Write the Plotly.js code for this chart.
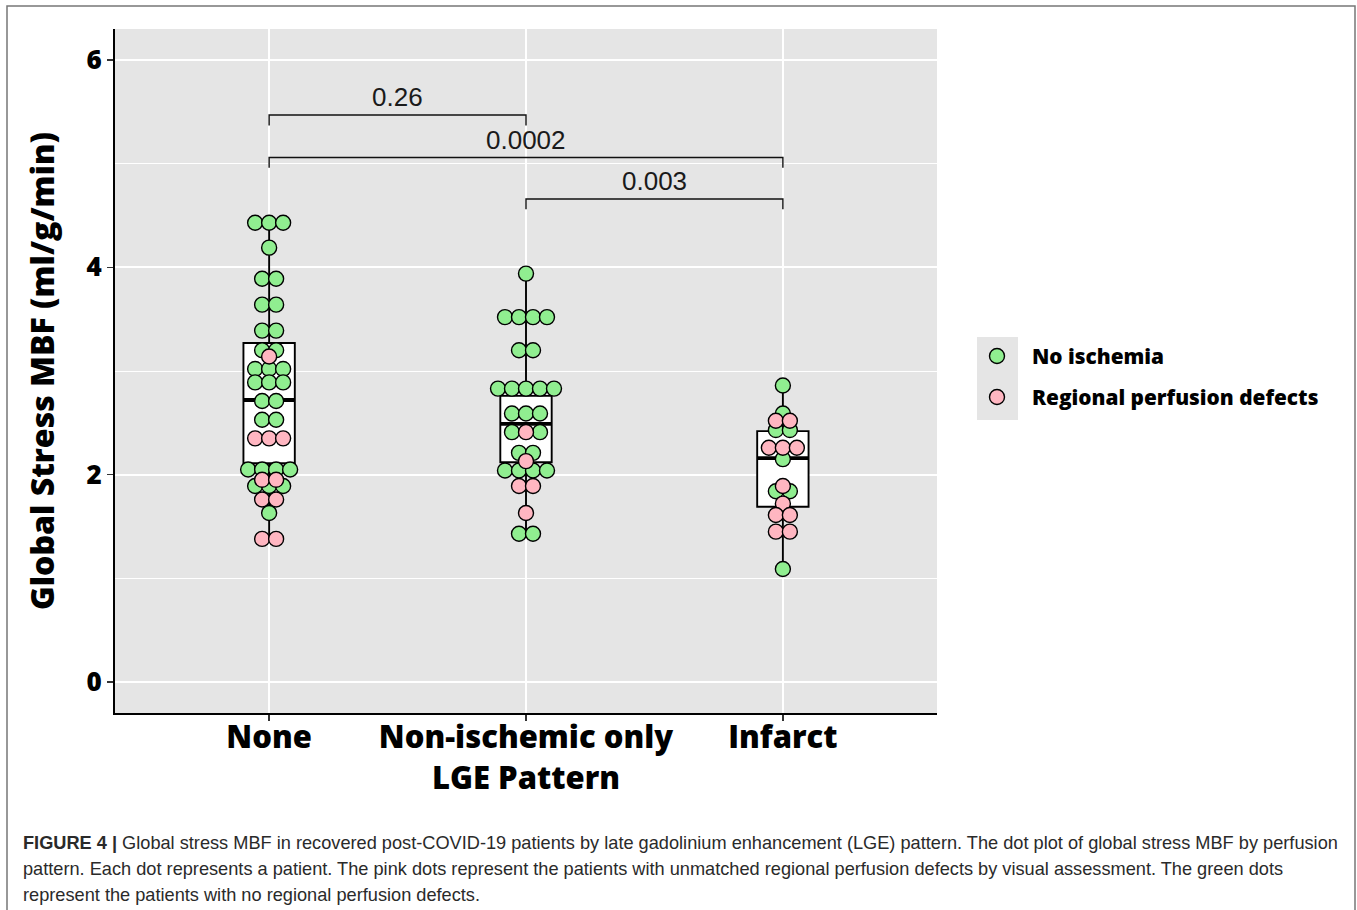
<!DOCTYPE html>
<html><head><meta charset="utf-8">
<script src="https://cdn.plot.ly/plotly-3.0.1.min.js"></script>
<style>html,body{margin:0;padding:0;background:#fff;} #chart{width:1357px;height:910px;}</style>
</head><body><div id="chart"></div>
<script>
// ---- data ----
const categories = ['None', 'Non-ischemic only', 'Infarct'];
const groupPositions = [0, 1, 2];
const xAxisTitle = 'LGE Pattern';
const yAxisTitle = 'Global Stress MBF (ml/g/min)';

// Global stress MBF per patient (ml/g/min); status: 'N' = no ischemia, 'R' = regional perfusion defects
const noneMBF = [4.43,4.43,4.43,4.19,3.89,3.89,3.64,3.64,3.39,3.39,3.20,3.20,3.14,3.02,3.02,3.02,2.89,2.89,2.89,2.71,2.71,2.53,2.53,2.35,2.35,2.35,2.05,2.05,2.05,2.05,1.95,1.95,1.89,1.89,1.89,1.76,1.76,1.63,1.38,1.38];
const noneStatus = ['N','N','N','N','N','N','N','N','N','N','N','N','R','N','N','N','N','N','N','N','N','N','N','R','R','R','N','N','N','N','R','R','N','N','N','R','R','N','R','R'];

const nonIschemicMBF = [3.94,3.52,3.52,3.52,3.52,3.20,3.20,2.83,2.83,2.83,2.83,2.83,2.59,2.59,2.59,2.41,2.41,2.41,2.21,2.21,2.13,2.04,2.04,2.04,2.04,1.89,1.89,1.63,1.43,1.43];
const nonIschemicStatus = ['N','N','N','N','N','N','N','N','N','N','N','N','N','N','N','N','R','N','N','N','R','N','N','N','N','R','R','R','N','N'];

const infarctMBF = [2.86,2.59,2.52,2.52,2.43,2.43,2.26,2.26,2.26,2.15,1.89,1.84,1.84,1.72,1.61,1.61,1.45,1.45,1.09];
const infarctStatus = ['N','N','R','R','N','N','R','R','R','N','R','N','N','R','R','R','R','R','N'];

// box summary statistics
const boxQ1 = [2.11, 2.12, 1.69];
const boxMedian = [2.72, 2.49, 2.16];
const boxQ3 = [3.27, 2.76, 2.42];
const boxLower = [1.38, 1.43, 1.09];
const boxUpper = [4.43, 3.94, 2.86];

// pairwise comparisons
const compFrom = [0, 0, 1];
const compTo = [1, 2, 2];
const compY = [5.47, 5.06, 4.66];
const compLabel = ['0.26', '0.0002', '0.003'];

const statusNames = {N: 'No ischemia', R: 'Regional perfusion defects'};
const statusColors = {N: '#90EE90', R: '#FFB6C1'};

// ---- build ----
const DOT_STEP = 0.0545;
const BOX_HALF = 0.1;
const TICK_DROP = 0.1;

function stackOffsets(values, pos) {
  const counts = {}; values.forEach(v => counts[v] = (counts[v] || 0) + 1);
  const seen = {};
  return values.map(v => {
    seen[v] = (seen[v] === undefined) ? 0 : seen[v] + 1;
    return pos + (seen[v] - (counts[v] - 1) / 2) * DOT_STEP;
  });
}
const groups = [[noneMBF, noneStatus], [nonIschemicMBF, nonIschemicStatus], [infarctMBF, infarctStatus]];
const dots = {N: {x: [], y: []}, R: {x: [], y: []}};
groups.forEach((g, gi) => {
  const xs = stackOffsets(g[0], groupPositions[gi]);
  g[0].forEach((v, i) => { dots[g[1][i]].x.push(xs[i]); dots[g[1][i]].y.push(v); });
});

const traces = [];
traces.push({
  type: 'box', x: groupPositions, q1: boxQ1, median: boxMedian, q3: boxQ3,
  lowerfence: boxLower, upperfence: boxUpper, width: 2 * BOX_HALF,
  fillcolor: 'white', line: {color: 'black', width: 1.9}, whiskerwidth: 0,
  boxpoints: false, showlegend: false, hoverinfo: 'skip'
});
const medX = [], medY = [];
groupPositions.forEach((p, i) => { medX.push(p - BOX_HALF, p + BOX_HALF, null); medY.push(boxMedian[i], boxMedian[i], null); });
traces.push({type: 'scatter', mode: 'lines', x: medX, y: medY, line: {color: 'black', width: 3.8}, showlegend: false, hoverinfo: 'skip'});

['N', 'R'].forEach(s => {
  traces.push({
    type: 'scatter', mode: 'markers', name: statusNames[s], legendgroup: s,
    x: dots[s].x, y: dots[s].y,
    marker: {color: statusColors[s], size: 15, line: {color: 'black', width: 1.4}}
  });
});

const brX = [], brY = [];
compFrom.forEach((a, i) => {
  const b = compTo[i], y = compY[i];
  brX.push(groupPositions[a], groupPositions[a], groupPositions[b], groupPositions[b], null);
  brY.push(y - TICK_DROP, y, y, y - TICK_DROP, null);
});
traces.push({type: 'scatter', mode: 'lines', x: brX, y: brY, line: {color: '#111', width: 1.4}, showlegend: false, hoverinfo: 'skip'});

const annotations = compLabel.map((t, i) => ({
  x: (groupPositions[compFrom[i]] + groupPositions[compTo[i]]) / 2, y: compY[i],
  xref: 'x', yref: 'y', yanchor: 'bottom', yshift: 1, showarrow: false, text: t,
  font: {family: 'Liberation Sans, Arial, sans-serif', size: 26, color: '#1a1a1a'}
}));

// caption
const W = 822, H = 684, L = 115, T = 29;
const px = x => (x - L) / W, py = y => (T + H - y) / H;
const captionLines = [
  '<b>FIGURE 4 |</b> Global stress MBF in recovered post-COVID-19 patients by late gadolinium enhancement (LGE) pattern. The dot plot of global stress MBF by perfusion',
  'pattern. Each dot represents a patient. The pink dots represent the patients with unmatched regional perfusion defects by visual assessment. The green dots',
  'represent the patients with no regional perfusion defects.'
];
const captionY = [843, 869, 895];
captionLines.forEach((t, i) => annotations.push({
  xref: 'paper', yref: 'paper', x: px(21), y: py(captionY[i]), xanchor: 'left', yanchor: 'middle',
  showarrow: false, text: t, align: 'left',
  font: {family: 'Liberation Sans, Arial, sans-serif', size: 18.2, color: '#2a2a2a'}
}));

const bold = {family: 'Open Sans, Lato, sans-serif', weight: 800, color: 'black'};

// x-axis title placed as an annotation just under the tick labels (tight ggplot spacing)
annotations.push({
  xref: 'paper', yref: 'paper', x: 0.5, y: py(777), xanchor: 'center', yanchor: 'middle',
  showarrow: false, text: xAxisTitle, font: Object.assign({size: 31}, bold)
});

const layout = {
  width: 1357, height: 910,
  margin: {l: L, r: 1357 - L - W, t: T, b: 910 - T - H, pad: 0},
  paper_bgcolor: 'white', plot_bgcolor: '#E5E5E5',
  showlegend: true,
  legend: {x: px(962), y: py(336), xanchor: 'left', yanchor: 'top', bgcolor: 'rgba(0,0,0,0)',
           font: Object.assign({size: 20.8}, bold), traceorder: 'grouped', tracegroupgap: 11, itemwidth: 60},
  xaxis: {
    range: [-0.6, 2.6], tickmode: 'array', tickvals: groupPositions, ticktext: categories,
    showgrid: true, gridcolor: 'white', gridwidth: 2, zeroline: false,
    showline: true, linecolor: 'black', linewidth: 2,
    ticks: 'outside', ticklen: 6, tickwidth: 1.5, tickcolor: '#333', ticklabelstandoff: -10,
    tickfont: Object.assign({size: 31}, bold)
  },
  yaxis: {
    range: [-0.3, 6.3], tickmode: 'linear', tick0: 0, dtick: 2,
    showgrid: true, gridcolor: 'white', gridwidth: 2, zeroline: false,
    minor: {tick0: 0, dtick: 1, showgrid: true, gridcolor: 'white', gridwidth: 1, ticks: ''},
    showline: true, linecolor: 'black', linewidth: 2,
    ticks: 'outside', ticklen: 6, tickwidth: 1.5, tickcolor: '#333',
    tickfont: Object.assign({size: 26}, bold),
    title: {text: yAxisTitle, font: Object.assign({size: 32}, bold), standoff: 22}
  },
  shapes: [
    {type: 'rect', xref: 'paper', yref: 'paper', x0: px(977), x1: px(1018), y0: py(420), y1: py(337),
     fillcolor: '#E5E5E5', line: {width: 0}, layer: 'below'},
    {type: 'rect', xref: 'paper', yref: 'paper', x0: px(7), x1: px(1355), y0: py(930), y1: py(6),
     fillcolor: 'rgba(0,0,0,0)', line: {color: '#777', width: 1.5}}
  ],
  annotations: annotations
};
Plotly.newPlot('chart', traces, layout, {displayModeBar: false, staticPlot: true});
</script>
</body></html>
